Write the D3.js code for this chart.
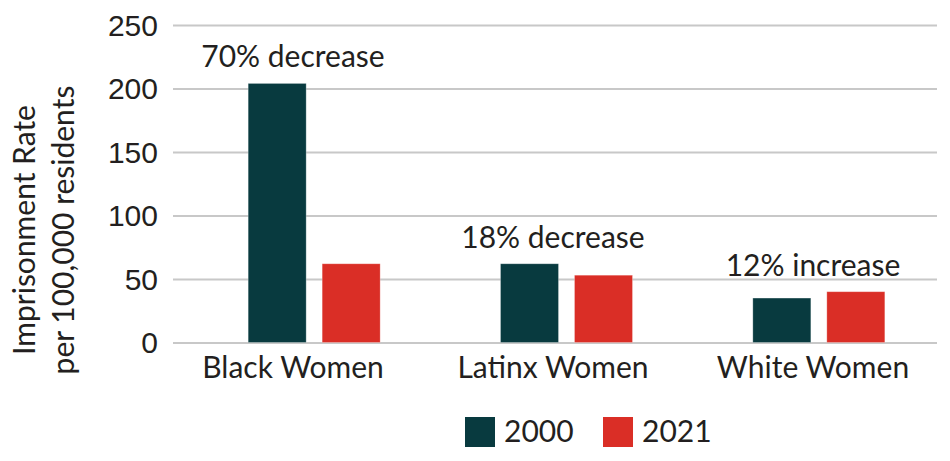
<!DOCTYPE html>
<html>
<head>
<meta charset="utf-8">
<script src="https://cdn.jsdelivr.net/npm/d3@7"></script>
<style>
  body { margin: 0; background: #fff; }
  svg { display: block; font-family: Lato, 'Source Sans Pro', sans-serif; }
  .gridlines line { stroke: #c8c8c8; stroke-width: 1.8; }
  .gridlines .domain { display: none; }
  .gridlines text { fill: #231f20; font-size: 30px; }
  text { fill: #231f20; }
</style>
</head>
<body>
<div id="chart"></div>
<script>
const categories = ['Black Women', 'Latinx Women', 'White Women'];
const years = ['2000', '2021'];
const rate2000 = [204, 62, 35];
const rate2021 = [62, 53, 40];
const changeLabels = ['70% decrease', '18% decrease', '12% increase'];
const yTicks = [0, 50, 100, 150, 200, 250];
const yTitle = ['Imprisonment Rate', 'per 100,000 residents'];
const colors = { '2000': '#083a3f', '2021': '#da2e26' };

const width = 950;
const height = 461;
const plot = { left: 173, right: 937, top: 25, bottom: 342.5 };

const rows = categories.map((c, i) => ({
  category: c,
  values: [{ year: '2000', value: rate2000[i] }, { year: '2021', value: rate2021[i] }],
  change: changeLabels[i],
}));

const svg = d3.select('#chart')
  .append('svg')
  .attr('width', width)
  .attr('height', height);

const yScale = d3.scaleLinear().domain([0, 250]).range([plot.bottom, plot.top]);

// bars sit a bit right of the category labels in the original
const xBars = d3.scaleBand().domain(categories).range([188, 945]);
const xYear = d3.scaleBand().domain(years).range([-66, 66]).paddingInner(0.216);
const xLabels = d3.scaleBand().domain(categories).range([163, 943]);

// gridlines + y tick labels
svg.append('g')
  .attr('class', 'gridlines')
  .attr('transform', `translate(${plot.left}, 0)`)
  .call(d3.axisLeft(yScale)
    .tickValues(yTicks)
    .tickSize(-(plot.right - plot.left))
    .tickPadding(15))
  .selectAll('text')
  .attr('dy', '0.34em');

// bars
const groups = svg.append('g')
  .selectAll('g')
  .data(rows)
  .join('g')
  .attr('transform', (d) => `translate(${xBars(d.category) + xBars.bandwidth() / 2}, 0)`);

groups.selectAll('rect')
  .data((d) => d.values)
  .join('rect')
  .attr('x', (d) => xYear(d.year))
  .attr('width', xYear.bandwidth())
  .attr('y', (d) => yScale(d.value))
  .attr('height', (d) => yScale(0) - yScale(d.value))
  .attr('fill', (d) => colors[d.year])
  .attr('stroke', '#ffffff')
  .attr('stroke-opacity', 0.35)
  .attr('stroke-width', 0.8);

// change annotations
svg.append('g')
  .selectAll('text')
  .data(rows)
  .join('text')
  .attr('x', (d) => xLabels(d.category) + xLabels.bandwidth() / 2)
  .attr('y', (d) => yScale(d3.max(d.values, (v) => v.value)) - 16)
  .attr('text-anchor', 'middle')
  .style('font-size', '30px')
  .text((d) => d.change);

// category labels
svg.append('g')
  .selectAll('text')
  .data(categories)
  .join('text')
  .attr('x', (d) => xLabels(d) + xLabels.bandwidth() / 2)
  .attr('y', 378)
  .attr('text-anchor', 'middle')
  .style('font-size', '30px')
  .text((d) => d);

// y axis title
const title = svg.append('text')
  .attr('transform', 'translate(35, 230) rotate(-90)')
  .attr('text-anchor', 'middle')
  .style('font-size', '30px');
title.selectAll('tspan')
  .data(yTitle)
  .join('tspan')
  .attr('x', 0)
  .attr('y', (d, i) => i * 39)
  .text((d) => d);

// legend
const xLegend = d3.scaleBand().domain(years).range([465, 741]);
const legend = svg.append('g')
  .selectAll('g')
  .data(years)
  .join('g')
  .attr('transform', (d) => `translate(${xLegend(d)}, 417)`);
legend.append('rect')
  .attr('width', 30)
  .attr('height', 30)
  .attr('fill', (d) => colors[d]);
legend.append('text')
  .attr('x', 39)
  .attr('y', 25)
  .style('font-size', '30px')
  .text((d) => d);
</script>
</body>
</html>
